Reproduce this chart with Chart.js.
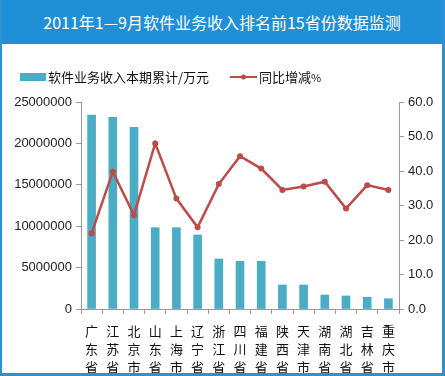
<!DOCTYPE html>
<html>
<head>
<meta charset="utf-8">
<script src="https://cdn.jsdelivr.net/npm/chart.js@4/dist/chart.umd.min.js"></script>
<style>
  html, body { margin: 0; padding: 0; background: #fff; }
  #frame {
    position: relative; width: 445px; height: 376px; box-sizing: border-box;
    border-left: 2px solid #2a93d5; border-right: 3px solid #2a93d5; border-bottom: 3px solid #2a93d5;
    overflow: hidden;
  }
  #header {
    height: 44px; background: #1f8fd8; color: #fff;
    font-family: "Noto Sans CJK SC", sans-serif; font-size: 16px;
    line-height: 44px; text-align: center;
  }
  #wrap { position: absolute; left: 0; top: 44px; width: 440px; height: 329px; }
</style>
</head>
<body>
<div id="frame">
  <div id="header">2011年1—9月软件业务收入排名前15省份数据监测</div>
  <div id="wrap"><canvas id="chart"></canvas></div>
</div>
<script>
// categories and values
const provinces = ['广东省', '江苏省', '北京市', '山东省', '上海市', '辽宁省', '浙江省', '四川省',
    '福建省', '陕西省', '天津市', '湖南省', '湖北省', '吉林省', '重庆市'];
const revenue = [23430000, 23150000, 21940000, 9820000, 9820000, 8940000, 6040000, 5760000,
    5760000, 2900000, 2900000, 1690000, 1570000, 1410000, 1240000];
const growth = [21.9, 39.8, 27.2, 48.0, 32.0, 23.7, 36.2, 44.3, 40.7, 34.5, 35.5, 36.9, 29.1, 35.9, 34.5];
const leftTicks = [0, 5000000, 10000000, 15000000, 20000000, 25000000];
const rightTicks = [0, 10, 20, 30, 40, 50, 60];

const barLabel = '软件业务收入本期累计/万元';
const lineLabel = '同比增减%';
const barColor = '#4bacc6';
const lineColor = '#be4b48';
const cjk = '"Noto Sans CJK SC", sans-serif';

// legend drawn by hand so the line entry gets its dot
const legendPlugin = {
    id: 'handLegend',
    afterDraw(chart) {
        const ctx = chart.ctx;
        ctx.save();
        const y = 33;
        ctx.fillStyle = barColor;
        ctx.fillRect(18, y - 4, 26, 8);
        ctx.font = '13px ' + cjk;
        ctx.fillStyle = '#111';
        ctx.textBaseline = 'middle';
        ctx.fillText(barLabel, 46, y);
        ctx.strokeStyle = lineColor;
        ctx.lineWidth = 2;
        ctx.beginPath();
        ctx.moveTo(228, y);
        ctx.lineTo(255, y);
        ctx.stroke();
        ctx.fillStyle = lineColor;
        ctx.beginPath();
        ctx.arc(241.5, y, 2.5, 0, Math.PI * 2);
        ctx.fill();
        ctx.fillStyle = '#111';
        ctx.fillText('同比增减', 257, y);
        const w = ctx.measureText('同比增减').width;
        ctx.font = '11px ' + cjk;
        ctx.fillText('%', 257 + w, y + 1);
        ctx.restore();
    }
};

const ctx = document.getElementById('chart').getContext('2d');
new Chart(ctx, {
    data: {
        labels: provinces.map(p => p.split('')),
        datasets: [
            {
                type: 'line',
                label: lineLabel,
                data: growth,
                yAxisID: 'y1',
                borderColor: lineColor,
                backgroundColor: lineColor,
                borderWidth: 2.5,
                pointRadius: 3,
                pointBackgroundColor: lineColor,
                pointBorderWidth: 0,
                tension: 0,
                order: 0
            },
            {
                type: 'bar',
                label: barLabel,
                data: revenue,
                yAxisID: 'y',
                backgroundColor: barColor,
                barThickness: 8,
                order: 1
            }
        ]
    },
    options: {
        responsive: true,
        maintainAspectRatio: false,
        animation: false,
        layout: { padding: { top: 58, left: 0, right: 0, bottom: 0 } },
        plugins: {
            legend: { display: false },
            tooltip: { enabled: false }
        },
        scales: {
            x: {
                offset: true,
                grid: { display: true, drawOnChartArea: false, offset: true, tickLength: 5, color: '#999' },
                border: { color: '#999' },
                ticks: {
                    maxRotation: 0, minRotation: 0, autoSkip: false, padding: 8,
                    color: '#111', font: { family: cjk, size: 13, lineHeight: 18 / 13 }
                },
                afterFit(scale) { scale.height = 64; }
            },
            y: {
                position: 'left',
                min: 0, max: 25000000,
                afterBuildTicks(scale) { scale.ticks = leftTicks.map(v => ({ value: v })); },
                grid: { drawOnChartArea: false, tickLength: 5, color: '#999' },
                border: { color: '#999' },
                ticks: {
                    color: '#222', padding: 4, font: { family: 'Liberation Sans', size: 13 },
                    callback: v => String(v)
                },
                afterFit(scale) { scale.width = 79; }
            },
            y1: {
                position: 'right',
                min: 0, max: 60,
                afterBuildTicks(scale) { scale.ticks = rightTicks.map(v => ({ value: v })); },
                grid: { drawOnChartArea: false, tickLength: 5, color: '#999' },
                border: { color: '#999' },
                ticks: {
                    color: '#222', padding: 4, font: { family: 'Liberation Sans', size: 13 },
                    callback: v => v.toFixed(1)
                },
                afterFit(scale) { scale.width = 43; }
            }
        }
    },
    plugins: [legendPlugin]
});
</script>
</body>
</html>
